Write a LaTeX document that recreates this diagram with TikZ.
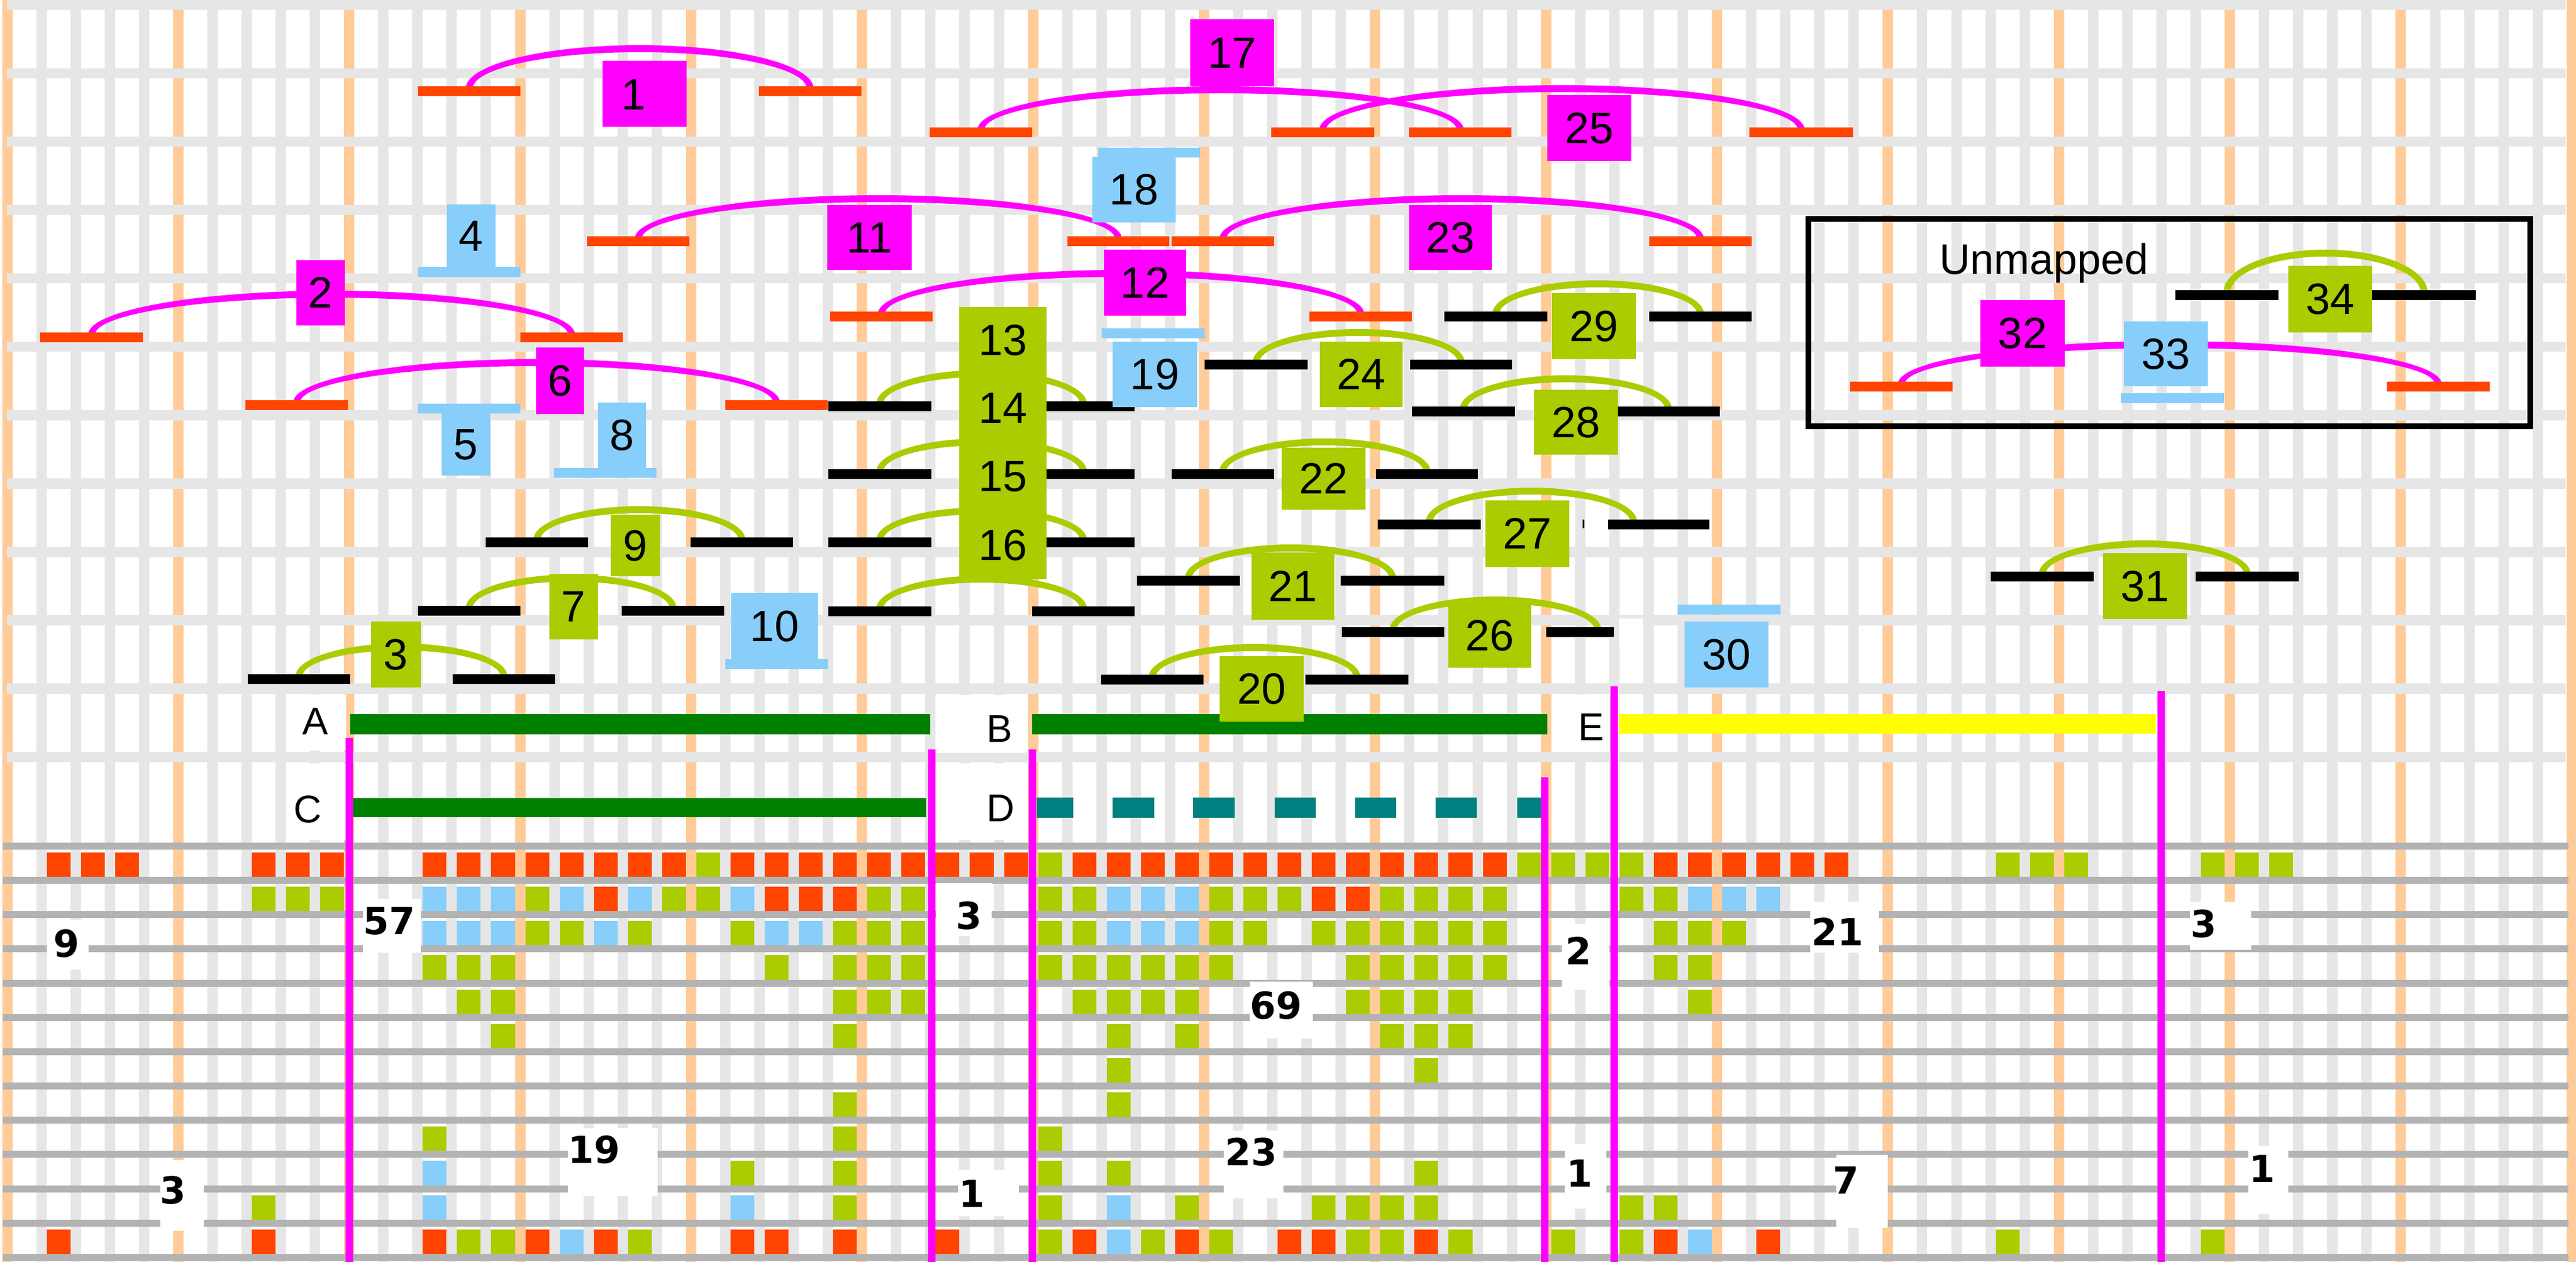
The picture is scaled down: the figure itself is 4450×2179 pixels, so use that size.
\documentclass[tikz,border=0pt]{standalone}
\usepackage{fontspec}
\setmainfont{Liberation Sans}
\newfontfamily\cntfont{DejaVu Sans}
\definecolor{stripeg}{HTML}{E6E6E6}
\definecolor{stripeo}{HTML}{FFCC99}
\definecolor{lineg}{HTML}{B3B3B3}
\definecolor{ored}{HTML}{FF4500}
\definecolor{mag}{HTML}{FF00FF}
\definecolor{lgreen}{HTML}{AACC00}
\definecolor{lblue}{HTML}{87CEFA}
\definecolor{dgreen}{HTML}{008000}
\definecolor{dteal}{HTML}{008080}
\definecolor{yel}{HTML}{FFFF00}
\newcommand\boxfont{\fontsize{21.5}{24}\selectfont}
\newcommand\featarc[5]{%
  \pgfmathsetmacro\faXc{(#1+#2)/2}%
  \pgfmathsetmacro\faAo{(#2-#1)/2+6}%
  \pgfmathsetmacro\faAi{(#2-#1)/2-6}%
  \pgfmathsetmacro\faYb{#3+4}%
  \pgfmathsetmacro\faHo{#4+4}%
  \pgfmathsetmacro\faHi{#4-8}%
  \fill[#5] ({\faXc-\faAo},\faYb) .. controls ({\faXc-\faAo},{\faYb-0.5523*\faHo}) and ({\faXc-0.5523*\faAo},{\faYb-\faHo}) .. ({\faXc},{\faYb-\faHo}) .. controls ({\faXc+0.5523*\faAo},{\faYb-\faHo}) and ({\faXc+\faAo},{\faYb-0.5523*\faHo}) .. ({\faXc+\faAo},\faYb) -- ({\faXc+\faAi},\faYb) .. controls ({\faXc+\faAi},{\faYb-0.5523*\faHi}) and ({\faXc+0.5523*\faAi},{\faYb-\faHi}) .. ({\faXc},{\faYb-\faHi}) .. controls ({\faXc-0.5523*\faAi},{\faYb-\faHi}) and ({\faXc-\faAi},{\faYb-0.5523*\faHi}) .. ({\faXc-\faAi},\faYb) -- cycle;%
}
\newcommand\fbar[4]{\fill[#4] (#1,#3) rectangle (#2,{#3+17});}
\newcommand\lab[7]{\node[fill=#2,inner sep=0pt,minimum width=#5cm,minimum height=#6cm,font=\boxfont] (#1) at (#3,#4) {#7};}
\newcommand\cellrow[3]{\foreach \celc in {#3}{\fill[#2] ({12.5+59.07*\celc+9},{1461+59.15*#1+11}) rectangle ({12.5+59.07*\celc+50.07},{1461+59.15*#1+53.15});}}
\begin{document}
\begin{tikzpicture}[x=0.01cm,y=-0.01cm,
  cnt/.style={font=\cntfont\bfseries\fontsize{18.3}{20}\selectfont, inner sep=0pt},
  letter/.style={font=\fontsize{19}{22}\selectfont, inner sep=0pt},
  magline/.style={mag, line width=3.7pt}]
% background
\fill[white] (0,0) rectangle (4450,2179);
\useasboundingbox (0,0) rectangle (4450,2179);
\foreach \i in {0,...,75}{%
  \pgfmathtruncatemacro\sti{mod(\i,5)}%
  \ifnum\sti=0\relax
    \fill[stripeo] ({12.5+59.07*\i-9},0) rectangle ({12.5+59.07*\i+9},2179);
  \else
    \fill[stripeg] ({12.5+59.07*\i-9},0) rectangle ({12.5+59.07*\i+9},2179);
  \fi}
\foreach \k in {0,...,11}{\fill[stripeg] (12,{118*\k}) rectangle (4432,{118*\k+17.5});}
\foreach \j in {0,...,12}{\fill[lineg] (5,{1461+59.15*\j-6}) rectangle (4437,{1461+59.15*\j+6});}
% white label patches
\fill[white] (497,1199) rectangle (598,1296);
\fill[white] (497,1318) rectangle (598,1450);
\fill[white] (1619,1200) rectangle (1772,1300);
\fill[white] (1619,1318) rectangle (1772,1450);
\fill[white] (2680,1199) rectangle (2781,1298);
\fill[white] (2797,1068) rectangle (2838,1118);
\fill[white] (81,1588) rectangle (153,1674);
\fill[white] (627,1552) rectangle (727,1645);
\fill[white] (981,1948) rectangle (1136,2065);
\fill[white] (277,2003) rectangle (352,2125);
\fill[white] (1617,1525) rectangle (1713,1616);
\fill[white] (2698,1595) rectangle (2780,1709);
\fill[white] (2159,1695) rectangle (2268,1793);
\fill[white] (2114,1952) rectangle (2217,2069);
\fill[white] (1655,2020) rectangle (1760,2100);
\fill[white] (2703,1975) rectangle (2775,2087);
\fill[white] (3127,1557) rectangle (3246,1645);
\fill[white] (3783,1557) rectangle (3889,1640);
\fill[white] (3172,1994) rectangle (3261,2120);
\fill[white] (3884,1979) rectangle (3953,2096);
% cells
\cellrow{0}{ored}{1,2,3,7,8,9,12,13,14,15,16,17,18,19,21,22,23,24,25,26,27,28,29,31,32,33,34,35,36,37,38,39,40,41,42,43,48,49,50,51,52,53}
\cellrow{0}{lgreen}{20,30,44,45,46,47,58,59,60,64,65,66}
\cellrow{1}{ored}{17,22,23,24,38,39}
\cellrow{1}{lgreen}{7,8,9,15,19,20,25,26,30,31,35,36,37,40,41,42,43,47,48}
\cellrow{1}{lblue}{12,13,14,16,18,21,32,33,34,49,50,51}
\cellrow{2}{lgreen}{15,16,18,21,24,25,26,30,31,35,36,38,39,40,41,42,43,48,49,50}
\cellrow{2}{lblue}{12,13,14,17,22,23,32,33,34}
\cellrow{3}{lgreen}{12,13,14,22,24,25,26,30,31,32,33,34,35,39,40,41,42,43,48,49}
\cellrow{4}{lgreen}{13,14,24,25,26,31,32,33,34,39,40,41,42,49}
\cellrow{5}{lgreen}{14,24,32,34,40,41,42}
\cellrow{6}{lgreen}{32,41}
\cellrow{7}{lgreen}{24,32}
\cellrow{8}{lgreen}{12,24,30}
\cellrow{9}{lgreen}{21,24,30,32,41}
\cellrow{9}{lblue}{12}
\cellrow{10}{lgreen}{7,24,30,34,38,39,40,41,47,48}
\cellrow{10}{lblue}{12,21,32}
\cellrow{11}{ored}{1,7,12,15,17,21,22,24,27,31,34,37,38,41,48,51}
\cellrow{11}{lgreen}{13,14,18,30,33,35,39,40,42,45,47,58,64}
\cellrow{11}{lblue}{16,32,49}
% A-E tracks
\fill[dgreen] (605,1233) rectangle (1607,1268);
\fill[dgreen] (1783,1233) rectangle (2673,1268);
\fill[yel] (2797,1233) rectangle (3724,1267);
\fill[dgreen] (609,1378) rectangle (1600,1411);
\foreach \da/\db in {1791/1854,1922/1994,2061/2133,2202/2273,2341/2412,2480/2551,2621/2665}{\fill[dteal] (\da,1377) rectangle (\db,1412);}
% arcs
\featarc{810.5}{1399.5}{149}{71}{mag}
\featarc{158}{987.5}{574}{72}{mag}
\featarc{512.5}{1341.5}{691}{71}{mag}
\featarc{1102.5}{1932}{408}{71}{mag}
\featarc{1522.5}{2350.5}{538}{72}{mag}
\featarc{1694.5}{2522.5}{220}{71}{mag}
\featarc{2285}{3111.5}{220}{73}{mag}
\featarc{2112.5}{2937.5}{408}{71}{mag}
\featarc{3284.5}{4212}{659}{70}{mag}
\featarc{516.5}{870.5}{1164}{53}{lgreen}
\featarc{810.5}{1162.5}{1046}{54}{lgreen}
\featarc{927.5}{1281.5}{928}{54}{lgreen}
\featarc{1520}{1871.5}{693}{54}{lgreen}
\featarc{1520}{1871.5}{810}{53}{lgreen}
\featarc{1520}{1871.5}{928}{52}{lgreen}
\featarc{1520}{1871.5}{1047}{53}{lgreen}
\featarc{1990.5}{2344}{1165}{53}{lgreen}
\featarc{2053}{2405.5}{994}{54}{lgreen}
\featarc{2112.5}{2465}{810}{53}{lgreen}
\featarc{2170}{2524}{621}{53}{lgreen}
\featarc{2406.5}{2760}{1083}{53}{lgreen}
\featarc{2469}{2822}{897}{55}{lgreen}
\featarc{2528}{2882}{702}{54}{lgreen}
\featarc{2584}{2937.5}{538}{54}{lgreen}
\featarc{3528}{3882}{987}{54}{lgreen}
\featarc{3847}{4187.5}{501}{70}{lgreen}
% bars
\fbar{722}{899}{149}{ored} \fbar{1311}{1488}{149}{ored}
\fbar{69}{247}{574}{ored} \fbar{899}{1076}{574}{ored}
\fbar{424}{601}{691}{ored} \fbar{1253}{1430}{691}{ored}
\fbar{1014}{1191}{408}{ored} \fbar{1844}{2020}{408}{ored}
\fbar{1434}{1611}{538}{ored} \fbar{2262}{2439}{538}{ored}
\fbar{1606}{1783}{220}{ored} \fbar{2434}{2611}{220}{ored}
\fbar{2196}{2374}{220}{ored} \fbar{3022}{3201}{220}{ored}
\fbar{2024}{2201}{408}{ored} \fbar{2849}{3026}{408}{ored}
\fbar{3196}{3373}{659}{ored} \fbar{4123}{4301}{659}{ored}
\fbar{428}{605}{1164}{black} \fbar{782}{959}{1164}{black}
\fbar{722}{899}{1046}{black} \fbar{1074}{1251}{1046}{black}
\fbar{839}{1016}{928}{black} \fbar{1193}{1370}{928}{black}
\fbar{1431}{1609}{693}{black} \fbar{1783}{1960}{693}{black}
\fbar{1431}{1609}{810}{black} \fbar{1783}{1960}{810}{black}
\fbar{1431}{1609}{928}{black} \fbar{1783}{1960}{928}{black}
\fbar{1431}{1609}{1047}{black} \fbar{1783}{1960}{1047}{black}
\fbar{1902}{2079}{1165}{black} \fbar{2255}{2433}{1165}{black}
\fbar{1964}{2142}{994}{black} \fbar{2316}{2495}{994}{black}
\fbar{2024}{2201}{810}{black} \fbar{2377}{2553}{810}{black}
\fbar{2081}{2259}{621}{black} \fbar{2436}{2612}{621}{black}
\fbar{2318}{2495}{1083}{black} \fbar{2671}{2788}{1083}{black}
\fbar{2380}{2558}{897}{black} \fbar{2778}{2953}{897}{black}
\fbar{2439}{2617}{702}{black} \fbar{2793}{2971}{702}{black}
\fbar{2495}{2673}{538}{black} \fbar{2849}{3026}{538}{black}
\fbar{3439}{3617}{987}{black} \fbar{3793}{3971}{987}{black}
\fbar{3758}{3936}{501}{black} \fbar{4098}{4277}{501}{black}
\fill[black] (2734,897) rectangle (2737,912);
\fbar{722}{899}{461}{lblue}
\fbar{722}{899}{697}{lblue}
\fbar{957}{1134}{808}{lblue}
\fbar{1253}{1430}{1138}{lblue}
\fbar{1897}{2073}{255}{lblue}
\fbar{1903}{2081}{567}{lblue}
\fbar{2898}{3076}{1044}{lblue}
\fbar{3664}{3842}{679}{lblue}
% label boxes
\lab{f1}{mag}{1113.5}{162}{1.45}{1.14}{}
\node[font=\boxfont,inner sep=0pt] (t1) at (1095,163) {1};
\lab{f2}{mag}{554}{505.5}{0.84}{1.13}{2}
\lab{f6}{mag}{967.5}{657.5}{0.83}{1.15}{6}
\lab{f11}{mag}{1502}{410}{1.46}{1.12}{11}
\lab{f12}{mag}{1978}{488}{1.42}{1.14}{12}
\lab{f17}{mag}{2128.5}{91}{1.45}{1.16}{17}
\lab{f25}{mag}{2745.5}{221}{1.45}{1.14}{25}
\lab{f23}{mag}{2505.5}{410}{1.43}{1.12}{23}
\lab{f32}{mag}{3494}{575.5}{1.46}{1.15}{32}
\lab{f3}{lgreen}{684}{1130}{0.86}{1.14}{3}
\lab{f7}{lgreen}{991}{1047.5}{0.84}{1.13}{7}
\lab{f9}{lgreen}{1097.5}{942}{0.85}{1.06}{9}
\lab{f13}{lgreen}{1732.5}{587.5}{1.51}{1.15}{13}
\lab{f14}{lgreen}{1732.5}{704.5}{1.51}{1.19}{14}
\lab{f15}{lgreen}{1732.5}{823}{1.51}{1.18}{15}
\lab{f16}{lgreen}{1732.5}{941}{1.51}{1.18}{16}
\lab{f20}{lgreen}{2179.5}{1189.5}{1.45}{1.13}{20}
\lab{f21}{lgreen}{2233.5}{1012}{1.43}{1.16}{21}
\lab{f22}{lgreen}{2286.5}{826.5}{1.45}{1.07}{22}
\lab{f24}{lgreen}{2351.5}{646.5}{1.43}{1.13}{24}
\lab{f26}{lgreen}{2573.5}{1097.5}{1.43}{1.11}{26}
\lab{f27}{lgreen}{2638.5}{921.5}{1.45}{1.15}{27}
\lab{f28}{lgreen}{2722.5}{729}{1.45}{1.12}{28}
\lab{f29}{lgreen}{2753.5}{563}{1.45}{1.14}{29}
\lab{f31}{lgreen}{3705.5}{1012}{1.45}{1.14}{31}
\lab{f34}{lgreen}{4025.5}{516.5}{1.45}{1.15}{34}
\lab{f4}{lblue}{814}{407.5}{0.84}{1.09}{4}
\lab{f5}{lblue}{805}{767.5}{0.84}{1.07}{5}
\lab{f8}{lblue}{1074.5}{751.5}{0.83}{1.13}{8}
\lab{f10}{lblue}{1338}{1081}{1.50}{1.14}{10}
\lab{f18}{lblue}{1959}{327.5}{1.44}{1.13}{18}
\lab{f19}{lblue}{1995}{646.5}{1.46}{1.13}{19}
\lab{f30}{lblue}{2982.5}{1130}{1.45}{1.14}{30}
\lab{f33}{lblue}{3741.5}{611}{1.45}{1.12}{33}
% unmapped frame
\draw[line width=2.85pt] (3124,378) rectangle (4371,736);
\node[anchor=base,font=\fontsize{21}{24}\selectfont,inner sep=0pt] (unm) at (3531,474) {Unmapped};
% track letters
\node[letter] (la) at (545,1246) {A};
\node[letter] (lb) at (1727,1259) {B};
\node[letter] (lc) at (532,1397) {C};
\node[letter] (ld) at (1729,1396) {D};
\node[letter] (le) at (2749,1256) {E};
% counts
\node[cnt] (n9) at (115,1629) {9};
\node[cnt] (n57) at (672,1590) {57};
\node[cnt] (n19) at (1026,1985) {19};
\node[cnt] (n3a) at (299,2055) {3};
\node[cnt] (n3b) at (1674,1581) {3};
\node[cnt] (n2) at (2727,1642) {2};
\node[cnt] (n69) at (2204,1736) {69};
\node[cnt] (n23) at (2161,1989) {23};
\node[cnt] (n1a) at (1679,2061) {1};
\node[cnt] (n1b) at (2729,2026) {1};
\node[cnt] (n21) at (3174,1609) {21};
\node[cnt] (n3c) at (3807,1595) {3};
\node[cnt] (n7) at (3189,2038) {7};
\node[cnt] (n1c) at (3908,2018) {1};
% boundary lines
\draw[magline] (603,1274) -- (603,2179);
\draw[magline] (1609,1294) -- (1609,2179);
\draw[magline] (1783,1294) -- (1783,2179);
\draw[magline] (2668,1342) -- (2668,2179);
\draw[magline] (2788,1185) -- (2788,2179);
\draw[magline] (3733,1193) -- (3733,2179);
\end{tikzpicture}
\end{document}
